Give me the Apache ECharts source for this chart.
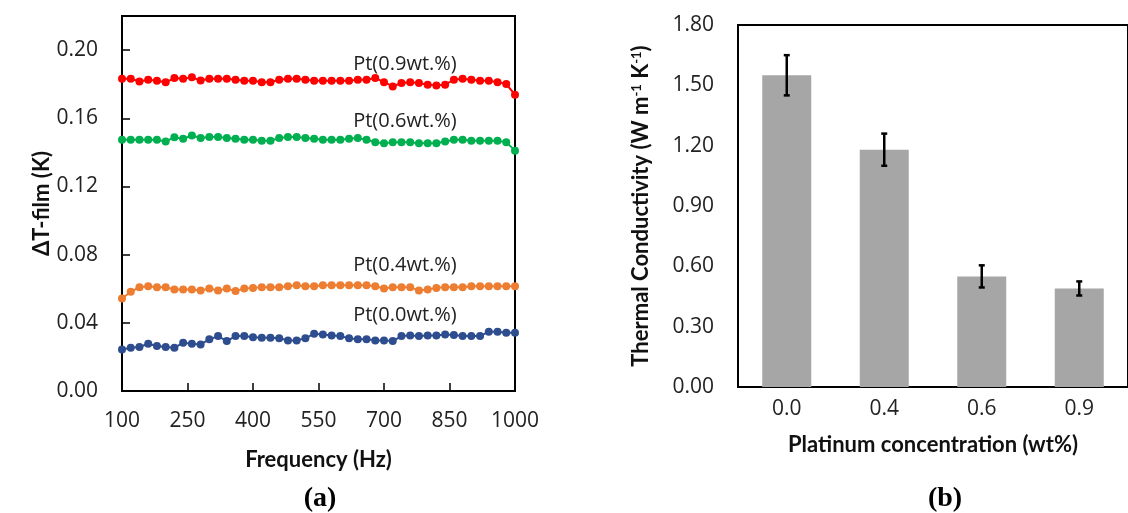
<!DOCTYPE html>
<html>
<head>
<meta charset="utf-8">
<script src="https://cdn.jsdelivr.net/npm/echarts@6/dist/echarts.min.js"></script>
<style>
  html, body { margin: 0; padding: 0; background: #fff; }
  #main { width: 1128px; height: 513px; }
</style>
</head>
<body>
<div id="main"></div>
<script>
// (a) delta T of the film vs frequency
const freq = [100, 120, 140, 160, 180, 200, 220, 240, 260, 280, 300, 320, 340, 360, 380, 400,
  420, 440, 460, 480, 500, 520, 540, 560, 580, 600, 620, 640, 660, 680, 700, 720, 740, 760,
  780, 800, 820, 840, 860, 880, 900, 920, 940, 960, 980, 1000];
const pt09 = [0.1832, 0.1832, 0.1816, 0.1826, 0.1820, 0.1811, 0.1836, 0.1832, 0.1840, 0.1822,
  0.1832, 0.1832, 0.1832, 0.1826, 0.1820, 0.1820, 0.1812, 0.1812, 0.1826, 0.1832,
  0.1832, 0.1826, 0.1820, 0.1820, 0.1820, 0.1820, 0.1820, 0.1826, 0.1826, 0.1836,
  0.1812, 0.1787, 0.1807, 0.1812, 0.1807, 0.1797, 0.1793, 0.1797, 0.1826, 0.1832,
  0.1826, 0.1820, 0.1820, 0.1812, 0.1801, 0.1738];
const pt06 = [0.1474, 0.1474, 0.1474, 0.1474, 0.1474, 0.1464, 0.1488, 0.1480, 0.1499, 0.1484,
  0.1490, 0.1490, 0.1484, 0.1480, 0.1474, 0.1474, 0.1468, 0.1468, 0.1484, 0.1490,
  0.1490, 0.1484, 0.1480, 0.1474, 0.1474, 0.1474, 0.1480, 0.1484, 0.1474, 0.1460,
  0.1454, 0.1460, 0.1460, 0.1460, 0.1454, 0.1454, 0.1454, 0.1464, 0.1474, 0.1474,
  0.1468, 0.1468, 0.1468, 0.1468, 0.1460, 0.1410];
const pt04 = [0.0543, 0.0582, 0.0609, 0.0615, 0.0609, 0.0609, 0.0595, 0.0595, 0.0595, 0.0589,
  0.0601, 0.0589, 0.0601, 0.0586, 0.0601, 0.0605, 0.0609, 0.0609, 0.0609, 0.0615,
  0.0621, 0.0615, 0.0615, 0.0621, 0.0621, 0.0621, 0.0621, 0.0621, 0.0621, 0.0615,
  0.0601, 0.0609, 0.0609, 0.0609, 0.0589, 0.0595, 0.0605, 0.0609, 0.0609, 0.0609,
  0.0615, 0.0615, 0.0615, 0.0615, 0.0615, 0.0615];
const pt00 = [0.0244, 0.0254, 0.0258, 0.0277, 0.0264, 0.0258, 0.0254, 0.0283, 0.0277, 0.0273,
  0.0303, 0.0322, 0.0293, 0.0322, 0.0322, 0.0316, 0.0312, 0.0312, 0.0309, 0.0297,
  0.0297, 0.0309, 0.0336, 0.0332, 0.0326, 0.0322, 0.0309, 0.0303, 0.0303, 0.0297,
  0.0297, 0.0293, 0.0322, 0.0326, 0.0322, 0.0326, 0.0326, 0.0332, 0.0328, 0.0322,
  0.0322, 0.0322, 0.0348, 0.0348, 0.0342, 0.0342];
const freqTicks = [100, 250, 400, 550, 700, 850, 1000];
const dtTicks = [0, 0.04, 0.08, 0.12, 0.16, 0.20];

// (b) thermal conductivity vs Pt loading
const conc = ['0.0', '0.4', '0.6', '0.9'];
const kValues = [1.55, 1.18, 0.55, 0.49];
const kErrors = [0.10, 0.08, 0.055, 0.035];

const FONT = 'Lato';
const LABEL_FONT = 'Open Sans';
const chart = echarts.init(document.getElementById('main'));

function lineSeries(name, vals, color, labelAt) {
  return {
    name: name,
    type: 'line',
    xAxisIndex: 0,
    yAxisIndex: 0,
    data: freq.map((f, i) => [f, vals[i]]),
    symbol: 'circle',
    symbolSize: 8,
    lineStyle: { color: color, width: 2 },
    itemStyle: { color: color },
    animation: false,
    markPoint: {
      symbol: 'circle',
      symbolSize: 0,
      data: [{ coord: labelAt, value: name }],
      label: {
        show: true, position: 'inside', formatter: name,
        color: '#222', fontFamily: LABEL_FONT, fontSize: 20
      }
    }
  };
}

const nameStyle = { fontFamily: FONT, fontWeight: 'bold', fontSize: 22, color: '#111' };
const tickStyle = { fontSize: 21, color: '#222', fontFamily: LABEL_FONT };

const options = {
  backgroundColor: '#fff',
  textStyle: { fontFamily: FONT },
  title: [
    { text: '(a)', left: 315, top: 480, textAlign: 'center',
      textStyle: { fontFamily: 'Liberation Serif', fontWeight: 'bold', fontSize: 28, color: '#000' } },
    { text: '(b)', left: 940, top: 480, textAlign: 'center',
      textStyle: { fontFamily: 'Liberation Serif', fontWeight: 'bold', fontSize: 28, color: '#000' } }
  ],
  grid: [
    { left: 122, top: 16, width: 393, height: 375, show: true, borderColor: '#000', borderWidth: 2 },
    { left: 738, top: 25, width: 392, height: 362, show: true, borderColor: '#000', borderWidth: 2 }
  ],
  xAxis: [
    {
      type: 'value', gridIndex: 0, min: 100, max: 1000,
      name: 'Frequency (Hz)', nameLocation: 'middle', nameGap: 58,
      nameTextStyle: nameStyle,
      axisLine: { lineStyle: { color: '#000', width: 2 } },
      axisTick: { inside: true, length: 8, lineStyle: { color: '#000', width: 1.5 }, customValues: freqTicks },
      axisLabel: Object.assign({ customValues: freqTicks, margin: 20, formatter: v => String(v) }, tickStyle),
      splitLine: { show: false }
    },
    {
      type: 'category', gridIndex: 1, data: conc,
      name: 'Platinum concentration (wt%)', nameLocation: 'middle', nameGap: 47,
      nameTextStyle: nameStyle,
      axisLine: { lineStyle: { color: '#000', width: 2 } },
      axisTick: { show: false },
      axisLabel: Object.assign({ margin: 12 }, tickStyle)
    }
  ],
  yAxis: [
    {
      type: 'value', gridIndex: 0, min: 0, max: 0.22,
      name: 'ΔT-film (K)', nameLocation: 'middle', nameGap: 66,
      nameTextStyle: nameStyle,
      axisLine: { show: true, lineStyle: { color: '#000', width: 2 } },
      axisTick: { show: true, inside: true, length: 8, lineStyle: { color: '#000', width: 1.5 }, customValues: dtTicks },
      axisLabel: Object.assign({ customValues: dtTicks, margin: 24, formatter: v => v.toFixed(2) }, tickStyle),
      splitLine: { show: false }
    },
    {
      type: 'value', gridIndex: 1, min: 0, max: 1.8, interval: 0.3,
      name: '{a|Thermal Conductivity (W m}{s|-1}{a| K}{s|-1}{a|)}',
      nameLocation: 'middle', nameGap: 86,
      nameTextStyle: {
        rich: {
          a: nameStyle,
          s: { fontFamily: FONT, fontWeight: 'bold', fontSize: 13, color: '#111', verticalAlign: 'top', padding: [0, 0, 9, 0] }
        }
      },
      axisLine: { show: true, lineStyle: { color: '#000', width: 2 } },
      axisTick: { show: false },
      axisLabel: Object.assign({ margin: 24, formatter: v => v.toFixed(2) }, tickStyle),
      splitLine: { show: false }
    }
  ],
  series: [
    lineSeries('Pt(0.9wt.%)', pt09, '#ff0000', [748, 0.1915]),
    lineSeries('Pt(0.6wt.%)', pt06, '#00b050', [748, 0.1580]),
    lineSeries('Pt(0.4wt.%)', pt04, '#ed7d31', [748, 0.0735]),
    lineSeries('Pt(0.0wt.%)', pt00, '#2e4d8f', [748, 0.0447]),
    {
      type: 'bar', xAxisIndex: 1, yAxisIndex: 1,
      data: kValues, barWidth: 49,
      itemStyle: { color: '#a6a6a6' },
      animation: false
    },
    {
      type: 'custom', xAxisIndex: 1, yAxisIndex: 1,
      data: kValues.map((v, i) => [i, v - kErrors[i], v + kErrors[i]]),
      animation: false,
      z: 10,
      renderItem: function (params, api) {
        const lo = api.coord([api.value(0), api.value(1)]);
        const hi = api.coord([api.value(0), api.value(2)]);
        const cap = 3;
        const style = { stroke: '#000', lineWidth: 2.5 };
        return {
          type: 'group',
          children: [
            { type: 'line', shape: { x1: hi[0], y1: hi[1], x2: lo[0], y2: lo[1] }, style: style },
            { type: 'line', shape: { x1: hi[0] - cap, y1: hi[1], x2: hi[0] + cap, y2: hi[1] }, style: style },
            { type: 'line', shape: { x1: lo[0] - cap, y1: lo[1], x2: lo[0] + cap, y2: lo[1] }, style: style }
          ]
        };
      }
    }
  ]
};

chart.setOption(options);
</script>
</body>
</html>
